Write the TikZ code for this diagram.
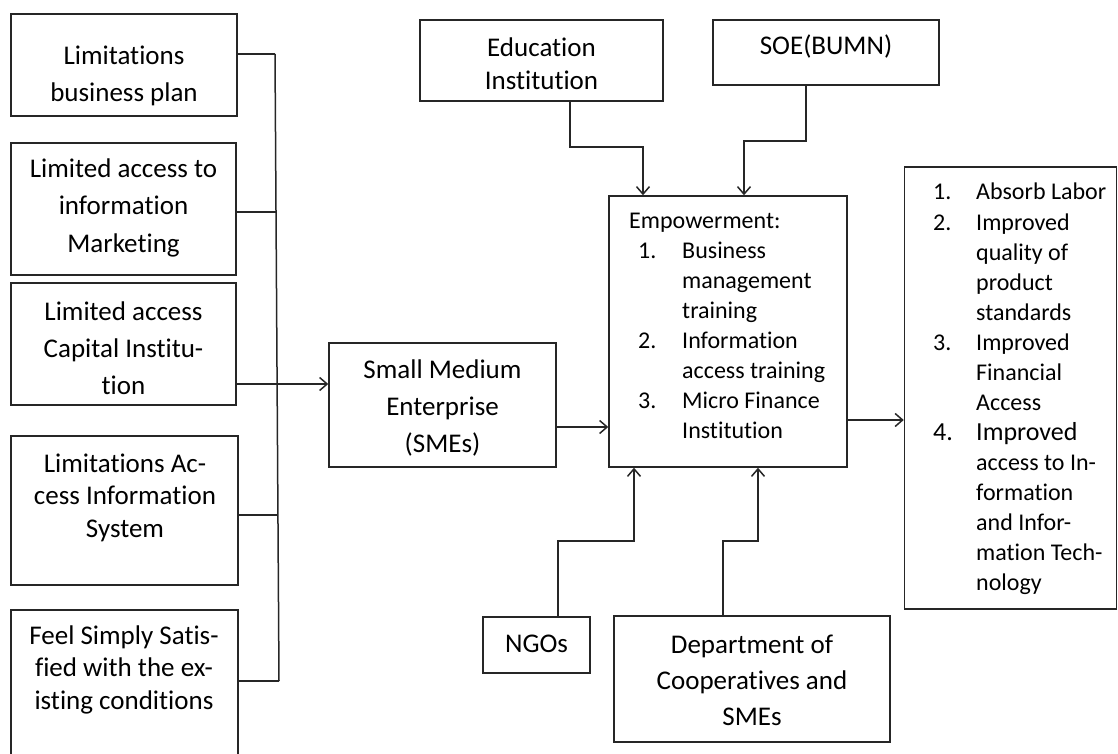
\documentclass[tikz,border=0pt]{standalone}
\usepackage{fontspec}
\setmainfont{Carlito}[Ligatures={NoCommon,NoContextual}]
\usetikzlibrary{arrows.meta}
\newcommand\tcen[1]{\begin{tabular}[t]{@{}c@{}}#1\end{tabular}}
\newcommand\tlft[1]{\begin{tabular}[t]{@{}l@{}}#1\end{tabular}}
\begin{document}
\begin{tikzpicture}[x=1pt,y=-1pt,
  box/.style={draw=black!85, line width=1.5pt, inner sep=0pt},
  conn/.style={draw=black!85, line width=1.5pt},
  arr/.style={conn, -{Straight Barb[length=7.5pt,width=13pt]}},
  bigt/.style={font=\fontsize{27}{37}\selectfont, inner sep=0pt, anchor=base, text=black},
  bigtight/.style={font=\fontsize{27}{32.5}\selectfont, inner sep=0pt, anchor=base, text=black},
  listt/.style={font=\fontsize{24}{30}\selectfont, inner sep=0pt, anchor=base west, text=black},
]
\useasboundingbox (0,0) rectangle (1118,754);
\clip (0,0) rectangle (1118,754);

% left boxes
\node[box, minimum width=226pt, minimum height=102pt] (b1) at (124,65) {};
\node[box, minimum width=225pt, minimum height=132pt] (b2) at (123.5,209) {};
\node[box, minimum width=225pt, minimum height=122pt] (b3) at (123.5,344) {};
\node[box, minimum width=227pt, minimum height=149pt] (b4) at (124.5,510.5) {};
\node[box, minimum width=227pt, minimum height=160pt] (b5) at (124.5,690) {};

\node[bigt] (t1) at (124,65) {\tcen{Limitations\\business plan}};
\node[bigt] (t2) at (123.5,178) {\tcen{Limited access to\\information\\Marketing}};
\node[bigt] (t3) at (123.5,320) {\tcen{Limited access\\Capital Institu-\\tion}};
\node[bigtight] (t4) at (125,472) {\tcen{Limitations Ac-\\cess Information\\System}};
\node[bigtight] (t5) at (124,644) {\tcen{Feel Simply Satis-\\fied with the ex-\\isting conditions}};

% SME
\node[box, minimum width=227pt, minimum height=124pt] (sme) at (442.5,405) {};
\node[bigt] (tsme) at (442.5,378) {\tcen{Small Medium\\Enterprise\\(SMEs)}};

% Empowerment
\node[box, minimum width=238pt, minimum height=271pt] (emp) at (728,331.5) {};
\node[listt] (temp) at (629,228) {Empowerment:};
\node[listt] (n1) at (638,258) {1.};
\node[listt] (i1) at (682,258) {\tlft{Business\\management\\training}};
\node[listt] (n2) at (638,348) {2.};
\node[listt] (i2) at (682,348) {\tlft{Information\\access training}};
\node[listt] (n3) at (638,408) {3.};
\node[listt] (i3) at (682,408) {\tlft{Micro Finance\\Institution}};

% top boxes
\node[box, minimum width=243pt, minimum height=81pt] (edu) at (541.5,60.5) {};
\node[bigtight] (tedu) at (541.5,57) {\tcen{Education\\Institution}};
\node[box, minimum width=226pt, minimum height=65pt] (soe) at (826,52.5) {};
\node[bigt] (tsoe) at (826,55) {SOE(BUMN)};

% bottom boxes
\node[box, minimum width=107pt, minimum height=56pt] (ngo) at (536.5,645) {};
\node[bigt] (tngo) at (536.5,652) {NGOs};
\node[box, minimum width=276pt, minimum height=126pt] (dep) at (752,679) {};
\node[bigt, font=\fontsize{27}{36}\selectfont] (tdep) at (752,653) {\tcen{Department of\\Cooperatives and\\SMEs}};

% outcome box
\node[box, minimum width=212pt, minimum height=442pt] (out) at (1010.5,388) {};
\node[listt] (o1n) at (933,200) {1.};
\node[listt] (o1) at (976,200) {Absorb Labor};
\node[listt] (o2n) at (933,230) {2.};
\node[listt] (o2) at (976,230) {\tlft{Improved\\quality of\\product\\standards}};
\node[listt] (o3n) at (933,350) {3.};
\node[listt] (o3) at (976,350) {\tlft{Improved\\Financial\\Access}};
\node[listt, font=\fontsize{26}{30}\selectfont] (o4n) at (933,440) {4.};
\node[listt, font=\fontsize{26}{30}\selectfont] (o4h) at (976,440) {Improved};
\node[listt] (o4) at (976,470) {\tlft{access to In-\\formation\\and Infor-\\mation Tech-\\nology}};

% left bracket
\coordinate (stop) at (275,54);
\coordinate (sbot) at (279,681);
\coordinate (s2) at (276,212);
\coordinate (s4) at (278,515);
\coordinate (a3) at (0,384);
\draw[conn] (stop) -- (sbot);
\draw[conn] (b1.east |- stop) -- (stop);
\draw[conn] (b2.east |- s2) -- (s2);
\draw[conn] (b4.east |- s4) -- (s4);
\draw[conn] (b5.east |- sbot) -- (sbot);
\draw[arr] (b3.east |- a3) -- (sme.west |- a3);

% SME -> empowerment -> outcome
\coordinate (a5) at (0,427);
\coordinate (a6) at (0,420);
\draw[arr] (sme.east |- a5) -- (emp.west |- a5);
\draw[arr] (emp.east |- a6) -- (out.west |- a6);

% top connectors
\coordinate (e1) at (570,147);
\coordinate (e2) at (643,147);
\draw[arr] (edu.south -| e1) -- (e1) -- (e2) -- (emp.north -| e2);
\coordinate (f1) at (806,141);
\coordinate (f2) at (744,141);
\draw[arr] (soe.south -| f1) -- (f1) -- (f2) -- (emp.north -| f2);

% bottom connectors
\coordinate (g1) at (558,541);
\coordinate (g2) at (634,541);
\draw[arr] (ngo.north -| g1) -- (g1) -- (g2) -- (emp.south -| g2);
\coordinate (h1) at (723,541);
\coordinate (h2) at (758,541);
\draw[arr] (dep.north -| h1) -- (h1) -- (h2) -- (emp.south -| h2);
\end{tikzpicture}
\end{document}
